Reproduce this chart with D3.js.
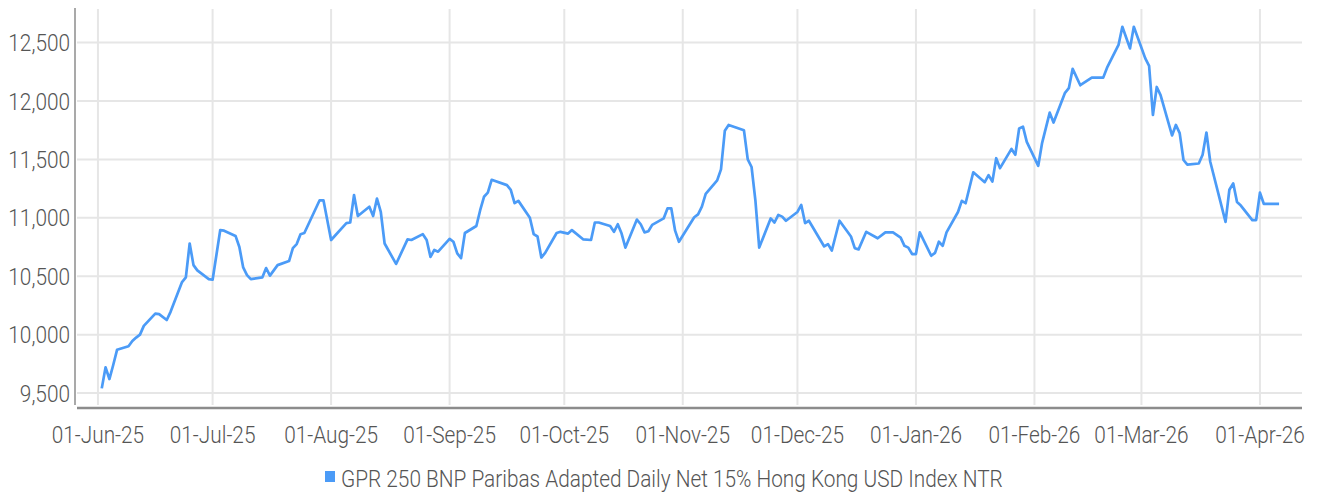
<!DOCTYPE html>
<html>
<head>
<meta charset="utf-8">
<script src="https://cdn.jsdelivr.net/npm/d3@7"></script>
<style>
  body { margin: 0; background: #fff; }
  svg text { font-family: 'Roboto', 'Liberation Sans', sans-serif; font-weight: 300; fill: #555; }
</style>
</head>
<body>
<svg id="chart"></svg>
<script>
const seriesName = 'GPR 250 BNP Paribas Adapted Daily Net 15% Hong Kong USD Index NTR';

const dates = [
  '2025-06-02', '2025-06-03', '2025-06-04', '2025-06-05', '2025-06-06', '2025-06-09', '2025-06-10',
  '2025-06-11', '2025-06-12', '2025-06-13', '2025-06-16', '2025-06-17', '2025-06-19', '2025-06-20',
  '2025-06-23', '2025-06-24', '2025-06-25', '2025-06-26', '2025-06-27', '2025-06-30', '2025-07-01',
  '2025-07-03', '2025-07-04', '2025-07-07', '2025-07-08', '2025-07-09', '2025-07-10', '2025-07-11',
  '2025-07-14', '2025-07-15', '2025-07-16', '2025-07-18', '2025-07-21', '2025-07-22', '2025-07-23',
  '2025-07-24', '2025-07-25', '2025-07-29', '2025-07-30', '2025-08-01', '2025-08-05', '2025-08-06',
  '2025-08-07', '2025-08-08', '2025-08-11', '2025-08-12', '2025-08-13', '2025-08-14', '2025-08-15',
  '2025-08-18', '2025-08-21', '2025-08-22', '2025-08-25', '2025-08-26', '2025-08-27', '2025-08-28',
  '2025-08-29', '2025-09-01', '2025-09-02', '2025-09-03', '2025-09-04', '2025-09-05', '2025-09-08',
  '2025-09-09', '2025-09-10', '2025-09-11', '2025-09-12', '2025-09-16', '2025-09-17', '2025-09-18',
  '2025-09-19', '2025-09-22', '2025-09-23', '2025-09-24', '2025-09-25', '2025-09-26', '2025-09-29',
  '2025-09-30', '2025-10-02', '2025-10-03', '2025-10-06', '2025-10-08', '2025-10-09', '2025-10-10',
  '2025-10-13', '2025-10-14', '2025-10-15', '2025-10-16', '2025-10-17', '2025-10-20', '2025-10-21',
  '2025-10-22', '2025-10-23', '2025-10-24', '2025-10-27', '2025-10-28', '2025-10-29', '2025-10-30',
  '2025-10-31', '2025-11-04', '2025-11-05', '2025-11-06', '2025-11-07', '2025-11-10', '2025-11-11',
  '2025-11-12', '2025-11-13', '2025-11-17', '2025-11-18', '2025-11-19', '2025-11-20', '2025-11-21',
  '2025-11-24', '2025-11-25', '2025-11-26', '2025-11-27', '2025-11-28', '2025-12-01', '2025-12-02',
  '2025-12-03', '2025-12-04', '2025-12-08', '2025-12-09', '2025-12-10', '2025-12-12', '2025-12-15',
  '2025-12-16', '2025-12-17', '2025-12-19', '2025-12-22', '2025-12-24', '2025-12-26', '2025-12-28',
  '2025-12-29', '2025-12-30', '2025-12-31', '2026-01-01', '2026-01-02', '2026-01-05', '2026-01-06',
  '2026-01-07', '2026-01-08', '2026-01-09', '2026-01-12', '2026-01-13', '2026-01-14', '2026-01-16',
  '2026-01-19', '2026-01-20', '2026-01-21', '2026-01-22', '2026-01-23', '2026-01-26', '2026-01-27',
  '2026-01-28', '2026-01-29', '2026-01-30', '2026-02-02', '2026-02-03', '2026-02-05', '2026-02-06',
  '2026-02-09', '2026-02-10', '2026-02-11', '2026-02-13', '2026-02-16', '2026-02-19', '2026-02-20',
  '2026-02-23', '2026-02-24', '2026-02-26', '2026-02-27', '2026-03-02', '2026-03-03', '2026-03-04',
  '2026-03-05', '2026-03-06', '2026-03-09', '2026-03-10', '2026-03-11', '2026-03-12', '2026-03-13',
  '2026-03-16', '2026-03-17', '2026-03-18', '2026-03-19', '2026-03-23', '2026-03-24', '2026-03-25',
  '2026-03-26', '2026-03-27', '2026-03-30', '2026-03-31', '2026-04-01', '2026-04-02', '2026-04-06',
];

const values = [
  9540, 9720, 9620, 9740, 9870, 9900, 9945,
  9975, 10000, 10075, 10180, 10175, 10125, 10195,
  10450, 10490, 10780, 10595, 10550, 10475, 10470,
  10895, 10890, 10845, 10750, 10575, 10510, 10475,
  10490, 10570, 10505, 10595, 10630, 10740, 10775,
  10860, 10870, 11150, 11150, 10810, 10955, 10960,
  11195, 11015, 11095, 11015, 11165, 11050, 10780,
  10605, 10815, 10810, 10860, 10810, 10665, 10725,
  10710, 10820, 10795, 10695, 10655, 10870, 10930,
  11065, 11180, 11215, 11325, 11280, 11240, 11125,
  11145, 11000, 10860, 10840, 10660, 10700, 10870,
  10880, 10865, 10895, 10815, 10810, 10960, 10960,
  10930, 10880, 10945, 10865, 10745, 10985, 10945,
  10875, 10885, 10940, 10995, 11080, 11080, 10890,
  10795, 11005, 11030, 11095, 11205, 11320, 11415,
  11745, 11795, 11750, 11500, 11435, 11150, 10745,
  10995, 10960, 11025, 11010, 10975, 11050, 11110,
  10955, 10975, 10755, 10775, 10720, 10975, 10840,
  10740, 10730, 10880, 10825, 10875, 10875, 10830,
  10760, 10745, 10690, 10690, 10875, 10675, 10700,
  10795, 10760, 10875, 11050, 11145, 11125, 11390,
  11305, 11365, 11310, 11510, 11425, 11590, 11540,
  11765, 11780, 11650, 11445, 11640, 11900, 11815,
  12070, 12110, 12275, 12135, 12200, 12200, 12285,
  12480, 12635, 12450, 12635, 12365, 12300, 11880,
  12120, 12050, 11705, 11795, 11725, 11495, 11455,
  11465, 11540, 11730, 11480, 10965, 11240, 11295,
  11135, 11105, 10980, 10980, 11215, 11120, 11120,
];

const yTicks = [9500, 10000, 10500, 11000, 11500, 12000, 12500];
const xTicks = [
  '2025-06-01', '2025-07-01', '2025-08-01', '2025-09-01', '2025-10-01', '2025-11-01',
  '2025-12-01', '2026-01-01', '2026-02-01', '2026-03-01', '2026-04-01',
];
const xDomain = ['2025-05-26', '2026-04-12'];
const yDomain = [9372, 12796];

const width = 1317;
const height = 493;
const margin = { top: 8, right: 15, bottom: 85, left: 75 };
const lineColor = '#4b9bf7';
const gridColor = '#e6e6e6';
const axisColor = '#8c8c8c';
const fontSize = 24;
const legendTextWidth = 662; // width of the legend label in the reference

const parse = d3.utcParse('%Y-%m-%d');
const fmtDate = d3.utcFormat('%d-%b-%y');
const fmtNum = d3.format(',');

const data = dates.map((d, i) => ({ date: parse(d), value: values[i] }));

const x = d3.scaleUtc()
  .domain(xDomain.map(parse))
  .range([margin.left, width - margin.right]);

const y = d3.scaleLinear()
  .domain(yDomain)
  .range([height - margin.bottom, margin.top]);

const svg = d3.select('#chart')
  .attr('width', width)
  .attr('height', height);

// the reference uses a condensed face, so squeeze the text horizontally
const probe = svg.append('text')
  .style('font-size', `${fontSize}px`)
  .text(seriesName);
const sx = legendTextWidth / probe.node().getComputedTextLength();
probe.remove();

const place = (px, py) => `translate(${px},${py}) scale(${sx},1)`;

// horizontal grid + y labels
svg.append('g')
  .attr('class', 'y-grid')
  .call((g) => g.selectAll('line')
    .data(yTicks)
    .join('line')
      .attr('x1', margin.left + 2)
      .attr('x2', width - margin.right)
      .attr('y1', (d) => y(d))
      .attr('y2', (d) => y(d))
      .attr('stroke', gridColor)
      .attr('stroke-width', 2))
  .call((g) => g.selectAll('text')
    .data(yTicks)
    .join('text')
      .attr('transform', (d) => place(margin.left - 5, y(d)))
      .attr('dy', '0.36em')
      .attr('text-anchor', 'end')
      .style('font-size', `${fontSize}px`)
      .text((d) => fmtNum(d)));

// vertical grid + x labels
svg.append('g')
  .attr('class', 'x-grid')
  .call((g) => g.selectAll('line')
    .data(xTicks.map(parse))
    .join('line')
      .attr('x1', (d) => x(d))
      .attr('x2', (d) => x(d))
      .attr('y1', margin.top + 1)
      .attr('y2', height - margin.bottom - 3)
      .attr('stroke', gridColor)
      .attr('stroke-width', 2))
  .call((g) => g.selectAll('text')
    .data(xTicks.map(parse))
    .join('text')
      .attr('transform', (d) => place(x(d), height - margin.bottom + 26))
      .attr('dy', '0.36em')
      .attr('text-anchor', 'middle')
      .style('font-size', `${fontSize}px`)
      .text((d) => fmtDate(d)));

// axis lines
svg.append('line')
  .attr('x1', margin.left)
  .attr('x2', margin.left)
  .attr('y1', margin.top)
  .attr('y2', height - margin.bottom - 3)
  .attr('stroke', axisColor)
  .attr('stroke-width', 1.5);

svg.append('line')
  .attr('x1', margin.left + 2)
  .attr('x2', width - margin.right)
  .attr('y1', height - margin.bottom)
  .attr('y2', height - margin.bottom)
  .attr('stroke', axisColor)
  .attr('stroke-width', 2.5);

// series
svg.append('path')
  .datum(data)
  .attr('fill', 'none')
  .attr('stroke', lineColor)
  .attr('stroke-width', 2.7)
  .attr('stroke-linejoin', 'round')
  .attr('d', d3.line()
    .x((d) => x(d.date))
    .y((d) => y(d.value)));

// legend
const legend = svg.append('g')
  .attr('class', 'legend')
  .attr('transform', `translate(325,${height - 15})`);

legend.append('rect')
  .attr('width', 10)
  .attr('height', 11)
  .attr('y', -7)
  .attr('fill', lineColor);

legend.append('text')
  .attr('transform', place(16, 0))
  .attr('dy', '0.36em')
  .style('font-size', `${fontSize}px`)
  .text(seriesName);
</script>
</body>
</html>
